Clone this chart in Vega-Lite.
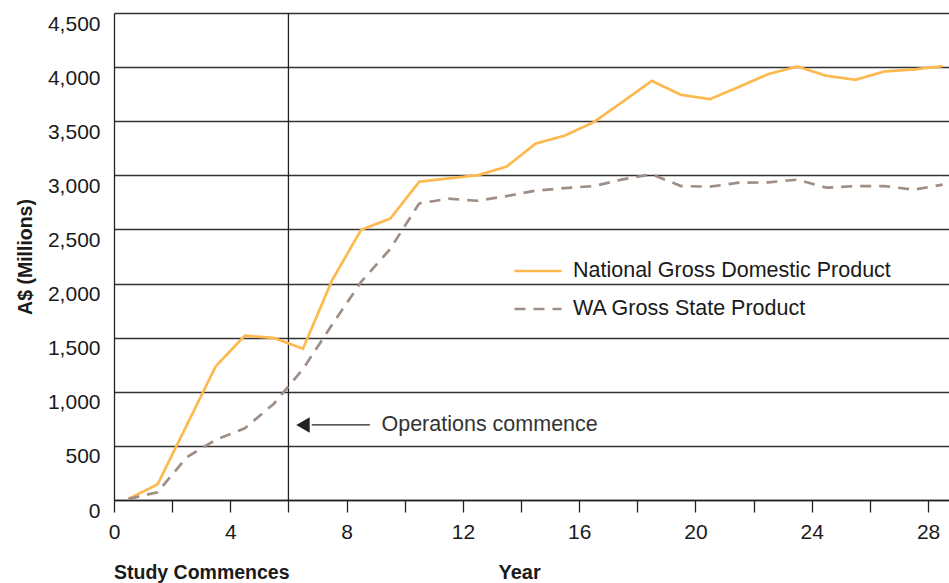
{
  "$schema": "https://vega.github.io/schema/vega-lite/v6.json",
  "width": 835,
  "height": 487,
  "autosize": {"type": "none"},
  "padding": {"left": 114, "top": 13, "right": 0, "bottom": 83},
  "background": "white",
  "config": {
    "view": {"stroke": null},
    "font": "Liberation Sans",
    "axis": {"labelFont": "Liberation Sans", "titleFont": "Liberation Sans"}
  },
  "datasets": {
    "series": [
      {"year": 0.5, "value": 10, "series": "National Gross Domestic Product"},
      {"year": 1.5, "value": 145, "series": "National Gross Domestic Product"},
      {"year": 2.5, "value": 690, "series": "National Gross Domestic Product"},
      {"year": 3.5, "value": 1236, "series": "National Gross Domestic Product"},
      {"year": 4.5, "value": 1519, "series": "National Gross Domestic Product"},
      {"year": 5.5, "value": 1497, "series": "National Gross Domestic Product"},
      {"year": 6.5, "value": 1398, "series": "National Gross Domestic Product"},
      {"year": 7.5, "value": 2030, "series": "National Gross Domestic Product"},
      {"year": 8.5, "value": 2497, "series": "National Gross Domestic Product"},
      {"year": 9.5, "value": 2600, "series": "National Gross Domestic Product"},
      {"year": 10.5, "value": 2941, "series": "National Gross Domestic Product"},
      {"year": 11.5, "value": 2972, "series": "National Gross Domestic Product"},
      {"year": 12.5, "value": 3000, "series": "National Gross Domestic Product"},
      {"year": 13.5, "value": 3080, "series": "National Gross Domestic Product"},
      {"year": 14.5, "value": 3293, "series": "National Gross Domestic Product"},
      {"year": 15.5, "value": 3367, "series": "National Gross Domestic Product"},
      {"year": 16.5, "value": 3491, "series": "National Gross Domestic Product"},
      {"year": 17.5, "value": 3681, "series": "National Gross Domestic Product"},
      {"year": 18.5, "value": 3873, "series": "National Gross Domestic Product"},
      {"year": 19.5, "value": 3744, "series": "National Gross Domestic Product"},
      {"year": 20.5, "value": 3704, "series": "National Gross Domestic Product"},
      {"year": 21.5, "value": 3818, "series": "National Gross Domestic Product"},
      {"year": 22.5, "value": 3935, "series": "National Gross Domestic Product"},
      {"year": 23.5, "value": 4006, "series": "National Gross Domestic Product"},
      {"year": 24.5, "value": 3920, "series": "National Gross Domestic Product"},
      {"year": 25.5, "value": 3883, "series": "National Gross Domestic Product"},
      {"year": 26.5, "value": 3960, "series": "National Gross Domestic Product"},
      {"year": 27.5, "value": 3978, "series": "National Gross Domestic Product"},
      {"year": 28.5, "value": 4009, "series": "National Gross Domestic Product"},
      {"year": 0.5, "value": 10, "series": "WA Gross State Product"},
      {"year": 1.5, "value": 72, "series": "WA Gross State Product"},
      {"year": 2.5, "value": 395, "series": "WA Gross State Product"},
      {"year": 3.5, "value": 556, "series": "WA Gross State Product"},
      {"year": 4.5, "value": 662, "series": "WA Gross State Product"},
      {"year": 5.5, "value": 890, "series": "WA Gross State Product"},
      {"year": 6.5, "value": 1210, "series": "WA Gross State Product"},
      {"year": 7.5, "value": 1620, "series": "WA Gross State Product"},
      {"year": 8.5, "value": 2015, "series": "WA Gross State Product"},
      {"year": 9.5, "value": 2320, "series": "WA Gross State Product"},
      {"year": 10.5, "value": 2741, "series": "WA Gross State Product"},
      {"year": 11.5, "value": 2784, "series": "WA Gross State Product"},
      {"year": 12.5, "value": 2765, "series": "WA Gross State Product"},
      {"year": 13.5, "value": 2808, "series": "WA Gross State Product"},
      {"year": 14.5, "value": 2858, "series": "WA Gross State Product"},
      {"year": 15.5, "value": 2882, "series": "WA Gross State Product"},
      {"year": 16.5, "value": 2901, "series": "WA Gross State Product"},
      {"year": 17.5, "value": 2963, "series": "WA Gross State Product"},
      {"year": 18.5, "value": 3009, "series": "WA Gross State Product"},
      {"year": 19.5, "value": 2901, "series": "WA Gross State Product"},
      {"year": 20.5, "value": 2895, "series": "WA Gross State Product"},
      {"year": 21.5, "value": 2932, "series": "WA Gross State Product"},
      {"year": 22.5, "value": 2935, "series": "WA Gross State Product"},
      {"year": 23.5, "value": 2960, "series": "WA Gross State Product"},
      {"year": 24.5, "value": 2886, "series": "WA Gross State Product"},
      {"year": 25.5, "value": 2901, "series": "WA Gross State Product"},
      {"year": 26.5, "value": 2901, "series": "WA Gross State Product"},
      {"year": 27.5, "value": 2867, "series": "WA Gross State Product"},
      {"year": 28.5, "value": 2914, "series": "WA Gross State Product"}
    ],
    "marker": [{"year": 6}],
    "arrow": [{"year": 6.8, "year2": 8.8, "value": 694}],
    "arrowhead": [{"year": 6.5, "value": 694}],
    "notes": [
      {"year": 9.2, "value": 694, "label": "Operations commence"}
    ],
    "belowaxis": [
      {"year": 0, "value": -670, "label": "Study Commences"}
    ]
  },
  "layer": [
    {
      "data": {"name": "marker"},
      "mark": {"type": "rule", "color": "#222222", "strokeWidth": 1.3},
      "encoding": {
        "x": {"field": "year", "type": "quantitative", "scale": {"domain": [0, 28.72], "nice": false, "zero": false}}
      }
    },
    {
      "data": {"name": "series"},
      "mark": {"type": "line", "strokeWidth": 2.7, "clip": true},
      "encoding": {
        "x": {
          "field": "year", "type": "quantitative",
          "scale": {"domain": [0, 28.72], "nice": false, "zero": false},
          "axis": {
            "values": [0,1,2,3,4,5,6,7,8,9,10,11,12,13,14,15,16,17,18,19,20,21,22,23,24,25,26,27,28],
            "labelExpr": "datum.value % 4 === 0 ? datum.label : ''",
            "tickSize": 12, "tickColor": "#222222", "tickWidth": 1.3,
            "domainColor": "#222222", "domainWidth": 1.3,
            "grid": false,
            "labelFontSize": 21, "labelColor": "#1a1a1a", "labelPadding": 9,
            "labelFlush": false,
            "title": "Year", "titleFontSize": 20, "titleFontWeight": "bold", "titleColor": "#1a1a1a",
            "titleAnchor": "start", "titleX": 384, "titleY": 72, "titleBaseline": "middle"
          }
        },
        "y": {
          "field": "value", "type": "quantitative",
          "scale": {"domain": [0, 4500], "nice": false, "zero": false},
          "axis": {
            "values": [0, 500, 1000, 1500, 2000, 2500, 3000, 3500, 4000, 4500],
            "format": ",.0f",
            "ticks": false,
            "grid": true, "gridColor": "#333333", "gridWidth": 1.3,
            "domainColor": "#222222", "domainWidth": 1.3,
            "labelFontSize": 21, "labelColor": "#1a1a1a", "labelPadding": 14,
            "labelBaseline": "top", "labelFlush": false,
            "title": "A$ (Millions)", "titleFontSize": 19.5, "titleFontWeight": "bold", "titleColor": "#1a1a1a",
            "titlePadding": 12
          }
        },
        "color": {
          "field": "series", "type": "nominal",
          "scale": {"domain": ["National Gross Domestic Product", "WA Gross State Product"], "range": ["#FDB94D", "#9E8E86"]},
          "legend": {
            "title": null, "orient": "none", "legendX": 399, "legendY": 248,
            "symbolType": "stroke", "symbolSize": 2209, "symbolStrokeWidth": 2.7,
            "labelFontSize": 21.5, "labelFont": "Liberation Sans", "labelColor": "#1a1a1a", "labelLimit": 600,
            "clipHeight": 20, "rowPadding": 16, "labelOffset": 10
          }
        },
        "strokeDash": {
          "field": "series", "type": "nominal",
          "scale": {"domain": ["National Gross Domestic Product", "WA Gross State Product"], "range": [[1, 0], [11, 8]]},
          "legend": {
            "title": null, "orient": "none", "legendX": 399, "legendY": 248,
            "symbolType": "stroke", "symbolSize": 2209, "symbolStrokeWidth": 2.7,
            "labelFontSize": 21.5, "labelFont": "Liberation Sans", "labelColor": "#1a1a1a", "labelLimit": 600,
            "clipHeight": 20, "rowPadding": 16, "labelOffset": 10
          }
        }
      }
    },
    {
      "data": {"name": "arrow"},
      "mark": {"type": "rule", "color": "#222222", "strokeWidth": 1.3},
      "encoding": {
        "x": {"field": "year", "type": "quantitative"},
        "x2": {"field": "year2"},
        "y": {"field": "value", "type": "quantitative"}
      }
    },
    {
      "data": {"name": "arrowhead"},
      "mark": {"type": "point", "shape": "triangle-left", "filled": true, "color": "#222222", "opacity": 1, "size": 240},
      "encoding": {
        "x": {"field": "year", "type": "quantitative"},
        "y": {"field": "value", "type": "quantitative"}
      }
    },
    {
      "data": {"name": "notes"},
      "mark": {"type": "text", "align": "left", "baseline": "middle", "fontSize": 21.5, "font": "Liberation Sans", "color": "#333333"},
      "encoding": {
        "x": {"field": "year", "type": "quantitative"},
        "y": {"field": "value", "type": "quantitative"},
        "text": {"field": "label"}
      }
    },
    {
      "data": {"name": "belowaxis"},
      "mark": {"type": "text", "align": "left", "baseline": "middle", "fontSize": 19.5, "fontWeight": "bold", "font": "Liberation Sans", "color": "#1a1a1a"},
      "encoding": {
        "x": {"field": "year", "type": "quantitative"},
        "y": {"field": "value", "type": "quantitative"},
        "text": {"field": "label"}
      }
    }
  ]
}
